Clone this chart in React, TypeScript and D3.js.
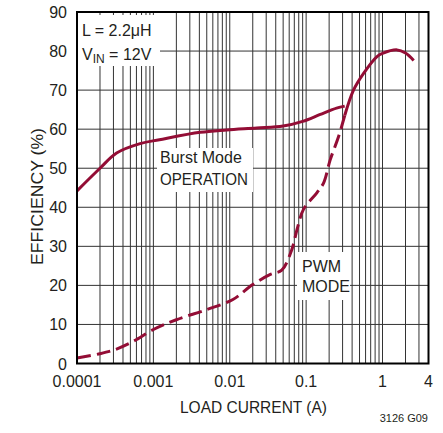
import React from "react";
import * as d3 from "d3";

const width = 443;
const height = 433;
const margin = { top: 12, right: 14.5, bottom: 69.5, left: 77 };
const red = "#930d35";
const ink = "#231f20";
const font = "'Liberation Sans', Arial, sans-serif";

// x tick labels (load current, A)
const xTickValues = [0.0001, 0.001, 0.01, 0.1, 1, 4];
const xTickLabels = ["0.0001", "0.001", "0.01", "0.1", "1", "4"];
// y ticks (efficiency, %)
const yTickValues = [0, 10, 20, 30, 40, 50, 60, 70, 80, 90];

// Burst Mode operation, solid
const burstCurrent = [0.0001, 0.0002, 0.00033, 0.00067, 0.0012, 0.0041, 0.0091, 0.0226, 0.05, 0.09, 0.15, 0.25, 0.32];
const burstEff = [44.2, 50, 53.9, 56.3, 57.3, 59.2, 59.8, 60.3, 60.8, 62.0, 63.7, 65.4, 65.9];

// PWM mode, dashed part
const pwmDashCurrent = [0.0001, 0.0002, 0.00032, 0.00055, 0.001, 0.002, 0.005, 0.011, 0.02, 0.034, 0.048, 0.065, 0.076, 0.092, 0.138, 0.169, 0.207, 0.266, 0.32];
const pwmDashEff = [1.4, 2.5, 3.6, 5.7, 8.7, 11.2, 13.8, 16.4, 20.2, 22.8, 23.9, 29.2, 34.3, 39.4, 43.7, 46.2, 52.2, 58.1, 63.5];

// PWM mode, solid part (high current)
const pwmSolidCurrent = [0.32, 0.417, 0.565, 0.847, 1.0, 1.55, 2.0, 2.56];
const pwmSolidEff = [63.5, 70, 74.3, 78.6, 79.4, 80.3, 79.5, 77.6];

const xScale = d3.scaleLog().domain([0.0001, 4]).range([margin.left, width - margin.right]);
const yScale = d3.scaleLinear().domain([0, 90]).range([height - margin.bottom, margin.top]);

const lineGen = d3
  .line<[number, number]>()
  .x(d => xScale(d[0]))
  .y(d => yScale(d[1]))
  .curve(d3.curveCatmullRom.alpha(0.5));

const zip = (xs: number[], ys: number[]) => xs.map((x, i) => [x, ys[i]] as [number, number]);

export default function App() {
  const x0 = margin.left;
  const x1 = width - margin.right;
  const y0 = height - margin.bottom;
  const y1 = margin.top;
  const gridX = xScale.ticks();

  return (
    <svg
      width={width}
      height={height}
      style={{ position: "absolute", left: 0, top: 0, background: "#fff" }}
      fontFamily={font}
    >
      {/* grid */}
      <g stroke="#333" strokeWidth={1}>
        {gridX.map(t => (
          <line key={"gx" + t} x1={xScale(t)} x2={xScale(t)} y1={y0} y2={y1} />
        ))}
        {yTickValues.map(t => (
          <line key={"gy" + t} x1={x0} x2={x1} y1={yScale(t)} y2={yScale(t)} />
        ))}
      </g>

      {/* white boxes behind annotations */}
      <g fill="#fff">
        <rect x={78} y={15} width={82} height={51} />
        <rect x={157} y={148} width={96} height={44} />
        <rect x={297} y={252} width={53} height={48} />
      </g>

      {/* curves */}
      <path d={lineGen(zip(burstCurrent, burstEff)) || ""} fill="none" stroke={red} strokeWidth={3} />
      <path
        d={lineGen(zip(pwmDashCurrent, pwmDashEff)) || ""}
        fill="none"
        stroke={red}
        strokeWidth={3}
        strokeDasharray="14 6"
      />
      <path d={lineGen(zip(pwmSolidCurrent, pwmSolidEff)) || ""} fill="none" stroke={red} strokeWidth={3} />

      {/* frame */}
      <rect x={x0} y={y1} width={x1 - x0} height={y0 - y1} fill="none" stroke="#000" strokeWidth={2} />

      {/* tick labels */}
      <g fill={ink} fontSize={16}>
        {yTickValues.map(t => (
          <text key={"yl" + t} x={67} y={yScale(t) + 6} textAnchor="end">
            {t}
          </text>
        ))}
        {xTickValues.map((t, i) => (
          <text key={"xl" + t} x={xScale(t)} y={387} textAnchor="middle">
            {xTickLabels[i]}
          </text>
        ))}
      </g>

      {/* axis titles */}
      <text x={253.5} y={413} textAnchor="middle" fontSize={16} fill={ink} textLength={147} lengthAdjust="spacingAndGlyphs">
        LOAD CURRENT (A)
      </text>
      <text
        transform="translate(43,196.5) rotate(-90)"
        textAnchor="middle"
        fontSize={16.5}
        fill={ink}
        textLength={137}
        lengthAdjust="spacingAndGlyphs"
      >
        EFFICIENCY (%)
      </text>

      {/* annotations */}
      <g fill={ink} fontSize={16}>
        <text x={82} y={36}>L = 2.2μH</text>
        <text x={82} y={60}>
          V<tspan fontSize={12} dy={3}>IN</tspan>
          <tspan dy={-3}> = 12V</tspan>
        </text>
        <text x={160} y={163}>Burst Mode</text>
        <text x={160} y={185} textLength={88} lengthAdjust="spacingAndGlyphs">OPERATION</text>
        <text x={302} y={272}>PWM</text>
        <text x={302} y={292}>MODE</text>
      </g>
      <text x={428} y={422} textAnchor="end" fontSize={11} fill={ink}>
        3126 G09
      </text>
    </svg>
  );
}
